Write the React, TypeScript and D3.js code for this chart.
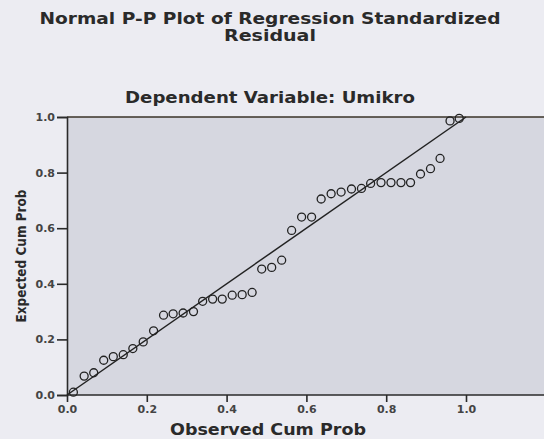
import * as d3 from 'd3';
import React, { useEffect, useRef } from 'react';

// observed cumulative probability (x) and expected cumulative probability (y)
const observed = [
  0.016, 0.043, 0.067, 0.092, 0.116, 0.141, 0.165, 0.191, 0.217, 0.242,
  0.266, 0.291, 0.317, 0.340, 0.365, 0.389, 0.414, 0.439, 0.464, 0.488,
  0.513, 0.538, 0.563, 0.588, 0.613, 0.637, 0.662, 0.687, 0.713, 0.738,
  0.761, 0.787, 0.812, 0.837, 0.861, 0.886, 0.911, 0.935, 0.960, 0.983
];
const expected = [
  0.010, 0.068, 0.080, 0.125, 0.138, 0.145, 0.167, 0.191, 0.231, 0.287,
  0.292, 0.295, 0.300, 0.337, 0.345, 0.345, 0.359, 0.361, 0.369, 0.453,
  0.459, 0.485, 0.592, 0.640, 0.640, 0.705, 0.724, 0.730, 0.741, 0.743,
  0.761, 0.764, 0.764, 0.764, 0.764, 0.795, 0.814, 0.851, 0.986, 0.995
];
const xTicks = [0, 0.2, 0.4, 0.6, 0.8, 1.0];
const yTicks = [0, 0.2, 0.4, 0.6, 0.8, 1.0];

const W = 544;
const H = 439;

export default function App() {
  const ref = useRef<SVGSVGElement>(null);

  useEffect(() => {
    const svg = d3.select(ref.current);
    svg.selectAll('*').remove();

    const x = d3.scaleLinear().domain([0, 1]).range([67, 466]);
    const y = d3.scaleLinear().domain([0, 1]).range([395, 117]);
    const font = "'DejaVu Sans', 'Liberation Sans', Arial, sans-serif";

    svg.append('rect').attr('width', W).attr('height', H).attr('fill', '#ececf2');

    // plot area runs off the right edge like the scan
    svg.append('rect')
      .attr('x', x(0)).attr('y', y(1))
      .attr('width', W - x(0) + 10).attr('height', y(0) - y(1))
      .attr('fill', '#d6d7e0');

    svg.append('line')
      .attr('x1', x(0)).attr('x2', W + 10)
      .attr('y1', y(1)).attr('y2', y(1))
      .attr('stroke', '#3a3328').attr('stroke-width', 1.6);

    const gx = svg.append('g').attr('transform', `translate(0,${y(0)})`)
      .call(d3.axisBottom(x).tickValues(xTicks).tickSize(7).tickPadding(3)
        .tickFormat(d3.format('.1f')));
    gx.select('.domain').attr('d', `M${x(0)},0H${W + 10}`);

    const gy = svg.append('g').attr('transform', `translate(${x(0)},0)`)
      .call(d3.axisLeft(y).tickValues(yTicks).tickSize(10).tickPadding(2)
        .tickFormat(d3.format('.1f')));

    [gx, gy].forEach(g => {
      g.select('.domain').attr('stroke', '#2a2a2a').attr('stroke-width', 1.6);
      g.selectAll('.tick line').attr('stroke', '#2a2a2a').attr('stroke-width', 1.6);
      g.selectAll('.tick text')
        .attr('fill', '#444')
        .style('font-family', font)
        .style('font-weight', 'bold')
        .style('font-size', '11px');
    });

    // reference diagonal
    svg.append('line')
      .attr('x1', x(0)).attr('y1', y(0))
      .attr('x2', x(1)).attr('y2', y(1))
      .attr('stroke', '#222').attr('stroke-width', 1.5);

    svg.append('g').selectAll('circle')
      .data(observed)
      .enter()
      .append('circle')
      .attr('cx', d => x(d))
      .attr('cy', (d, i) => y(expected[i]))
      .attr('r', 4)
      .attr('fill', 'none')
      .attr('stroke', '#222')
      .attr('stroke-width', 1.3);

    const txt = (s: string, tx: number, ty: number, size: number, len: number) =>
      svg.append('text')
        .attr('x', tx).attr('y', ty)
        .attr('text-anchor', 'middle')
        .attr('fill', '#2a2a2a')
        .attr('textLength', len)
        .attr('lengthAdjust', 'spacingAndGlyphs')
        .style('font-family', font)
        .style('font-weight', 'bold')
        .style('font-size', size + 'px')
        .text(s);

    txt('Normal P-P Plot of Regression Standardized', 270, 24, 15, 461);
    txt('Residual', 270, 41, 15, 92);
    txt('Dependent Variable: Umikro', 270, 103, 15, 290);
    txt('Observed Cum Prob', 268, 435, 15, 196);
    txt('Expected Cum Prob', 0, 0, 14, 133)
      .attr('transform', 'translate(26,256) rotate(-90)');
  }, []);

  return (
    <svg ref={ref} width={W} height={H}
      style={{ position: 'absolute', left: 0, top: 0 }} />
  );
}
